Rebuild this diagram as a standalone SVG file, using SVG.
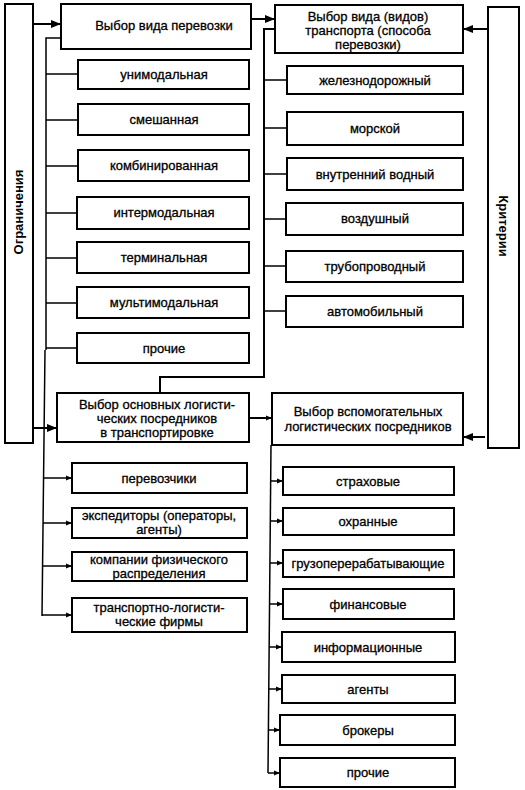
<svg xmlns="http://www.w3.org/2000/svg" width="525" height="790" viewBox="0 0 525 790">
<style>
.b{fill:#fff;stroke:#000;stroke-width:2}
.t{font-family:"Liberation Sans",Arial,sans-serif;font-size:13px;fill:#000;text-anchor:middle;stroke:#000;stroke-width:0.3}
.v{font-family:"Liberation Sans",Arial,sans-serif;font-size:13px;font-weight:bold;fill:#000;text-anchor:middle}
.c{fill:none;stroke:#000;stroke-width:2}
.s{fill:none;stroke:#000;stroke-width:1.5}
</style>
<defs>
<marker id="a" markerUnits="userSpaceOnUse" markerWidth="10" markerHeight="8" refX="10" refY="4" orient="auto"><path d="M0,0 L10,4 L0,8 z" fill="#000"/></marker>
<marker id="m" markerUnits="userSpaceOnUse" markerWidth="6" markerHeight="6" refX="6" refY="3" orient="auto"><path d="M0,0.5 L6,3 L0,5.5 z" fill="#000"/></marker>
</defs>
<rect width="525" height="790" fill="#fff"/>
<g id="connectors">
<path class="c" d="M33,24 H61" marker-end="url(#a)"/>
<path class="c" d="M33,428 H57" marker-end="url(#a)"/>
<path class="c" d="M251,19 H275" marker-end="url(#a)"/>
<path class="c" d="M489,29 H463" marker-end="url(#a)"/>
<path class="c" d="M485,437 H463" marker-end="url(#a)"/>
<path class="c" d="M249,418 H272" marker-end="url(#m)"/>
<path class="s" d="M61,38 H46 V350 M45,350 L42,616"/>
<path class="s" d="M46,74 H78 M46,120 H78 M46,166 H78 M46,213 H78 M46,258 H78 M46,303 H78 M46,348 H78"/>
<path class="s" d="M44,478 H72" marker-end="url(#m)"/>
<path class="s" d="M43,523 H72" marker-end="url(#m)"/>
<path class="s" d="M43,566 H72" marker-end="url(#m)"/>
<path class="s" d="M42,615 H72" marker-end="url(#m)"/>
<path class="c" d="M275,29 H264 V377 H160 V393"/>
<path class="s" d="M264,80 H287 M264,128 H287 M264,174 H287 M264,219 H286 M264,266 H286 M264,311 H286"/>
<path class="s" d="M271,445 L268,773"/>
<path class="s" d="M271,481 H283" marker-end="url(#m)"/>
<path class="s" d="M270,521 H283" marker-end="url(#m)"/>
<path class="s" d="M270,563 H283" marker-end="url(#m)"/>
<path class="s" d="M270,604 H283" marker-end="url(#m)"/>
<path class="s" d="M269,647 H282" marker-end="url(#m)"/>
<path class="s" d="M269,689 H282" marker-end="url(#m)"/>
<path class="s" d="M268,730 H280" marker-end="url(#m)"/>
<path class="s" d="M268,773 H280" marker-end="url(#m)"/>
</g>
<g id="ogranicheniya"><rect class="b" x="5" y="4" width="28" height="439"/><text class="v" transform="translate(23,212) rotate(-90)">Ограничения</text></g>
<g id="kriterii"><rect class="b" x="488" y="7" width="31" height="441"/><text class="v" transform="translate(499,226) rotate(90)">Критерии</text></g>
<g id="vybor-perevozki"><rect class="b" x="61" y="4" width="190" height="45"/><text class="t" x="164" y="30">Выбор вида перевозки</text></g>
<g id="unimodal"><rect class="b" x="78" y="60" width="171" height="29"/><text class="t" x="164" y="79">унимодальная</text></g>
<g id="smeshannaya"><rect class="b" x="78" y="104" width="171" height="31"/><text class="t" x="164" y="124">смешанная</text></g>
<g id="kombinir"><rect class="b" x="78" y="150" width="171" height="31"/><text class="t" x="164" y="170">комбинированная</text></g>
<g id="intermodal"><rect class="b" x="77" y="197" width="172" height="32"/><text class="t" x="164" y="217">интермодальная</text></g>
<g id="terminal"><rect class="b" x="77" y="242" width="172" height="31"/><text class="t" x="164" y="262">терминальная</text></g>
<g id="multimodal"><rect class="b" x="77" y="287" width="172" height="31"/><text class="t" x="164" y="307">мультимодальная</text></g>
<g id="prochie1"><rect class="b" x="77" y="333" width="172" height="30"/><text class="t" x="164" y="353">прочие</text></g>
<g id="vybor-transporta"><rect class="b" x="275" y="5" width="188" height="48"/><text class="t" x="368" y="21">Выбор вида (видов)</text><text class="t" x="368" y="35">транспорта (способа</text><text class="t" x="368" y="49">перевозки)</text></g>
<g id="zhd"><rect class="b" x="287" y="66" width="176" height="28"/><text class="t" x="375" y="85">железнодорожный</text></g>
<g id="morskoy"><rect class="b" x="287" y="112" width="176" height="33"/><text class="t" x="375" y="133">морской</text></g>
<g id="vnutr"><rect class="b" x="287" y="158" width="176" height="32"/><text class="t" x="375" y="179">внутренний водный</text></g>
<g id="vozd"><rect class="b" x="286" y="203" width="177" height="32"/><text class="t" x="375" y="223">воздушный</text></g>
<g id="trubo"><rect class="b" x="286" y="251" width="177" height="31"/><text class="t" x="375" y="271">трубопроводный</text></g>
<g id="avto"><rect class="b" x="286" y="296" width="177" height="31"/><text class="t" x="375" y="316">автомобильный</text></g>
<g id="osnovnye"><rect class="b" x="57" y="393" width="192" height="49"/><text class="t" x="157" y="409">Выбор основных логисти-</text><text class="t" x="157" y="423">ческих посредников</text><text class="t" x="157" y="437">в транспортировке</text></g>
<g id="vspomog"><rect class="b" x="272" y="393" width="191" height="52"/><text class="t" x="368" y="416">Выбор вспомогательных</text><text class="t" x="368" y="431">логистических посредников</text></g>
<g id="perevozchiki"><rect class="b" x="72" y="463" width="175" height="30"/><text class="t" x="159" y="483">перевозчики</text></g>
<g id="ekspeditory"><rect class="b" x="72" y="508" width="175" height="30"/><text class="t" x="159" y="520">экспедиторы (операторы,</text><text class="t" x="159" y="534">агенты)</text></g>
<g id="kompanii"><rect class="b" x="72" y="552" width="175" height="29"/><text class="t" x="159" y="564">компании физического</text><text class="t" x="159" y="578">распределения</text></g>
<g id="tlf"><rect class="b" x="72" y="598" width="175" height="34"/><text class="t" x="159" y="612">транспортно-логисти-</text><text class="t" x="159" y="626">ческие фирмы</text></g>
<g id="strakhovye"><rect class="b" x="283" y="467" width="171" height="28"/><text class="t" x="368" y="486">страховые</text></g>
<g id="okhrannye"><rect class="b" x="283" y="508" width="171" height="27"/><text class="t" x="368" y="526">охранные</text></g>
<g id="gruzo"><rect class="b" x="283" y="550" width="171" height="27"/><text class="t" x="368" y="568">грузоперерабатывающие</text></g>
<g id="finansovye"><rect class="b" x="283" y="589" width="171" height="30"/><text class="t" x="368" y="609">финансовые</text></g>
<g id="inform"><rect class="b" x="282" y="632" width="173" height="30"/><text class="t" x="368" y="652">информационные</text></g>
<g id="agenty"><rect class="b" x="282" y="675" width="173" height="28"/><text class="t" x="368" y="694">агенты</text></g>
<g id="brokery"><rect class="b" x="280" y="715" width="175" height="30"/><text class="t" x="368" y="735">брокеры</text></g>
<g id="prochie2"><rect class="b" x="280" y="758" width="175" height="29"/><text class="t" x="368" y="777">прочие</text></g>
</svg>
